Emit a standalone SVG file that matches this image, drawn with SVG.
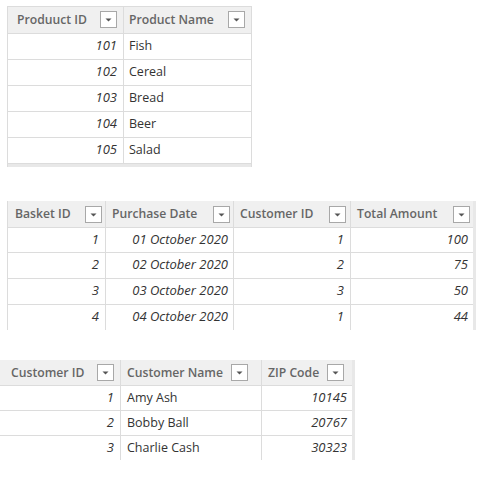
<svg xmlns="http://www.w3.org/2000/svg" width="498" height="481" viewBox="0 0 498 481">
<defs>
<style>
.hdr{fill:#f0f0f0}
.grid{stroke:#dcdcdc;stroke-width:1;fill:none}
.frame{fill:#e8e8e8}
.ht{font-family:"Open Sans","Noto Sans",sans-serif;font-size:12.2px;font-weight:600;fill:#666}
.dt{font-family:"Open Sans","Noto Sans",sans-serif;font-size:12.5px;fill:#333}
.num{font-family:"Open Sans","Noto Sans",sans-serif;font-size:13px;font-style:italic;fill:#333;text-anchor:end}
.dd{fill:#fff;stroke:#a8a8a8;stroke-width:1}
.tri{fill:#555}
</style>
<g id="ddicon">
<rect class="dd" x="0.5" y="0.5" width="16" height="16"/>
<path class="tri" d="M5.5,7.5 L11.5,7.5 L8.5,10.5 Z"/>
</g>
</defs>
<rect width="498" height="481" fill="#fff"/>

<g id="products">
<rect class="hdr" x="7" y="6" width="245" height="27"/>
<rect class="frame" x="7" y="163" width="245" height="4"/>
<path class="grid" d="M7.5,6 V167 M251.5,6 V167 M7,6.5 H252 M123.5,6 V163 M7,33.5 H252 M7,59.5 H252 M7,85.5 H252 M7,111.5 H252 M7,137.5 H252 M7,163.5 H252"/>
<text class="ht" x="17" y="24">Produuct ID</text>
<use href="#ddicon" x="100" y="11"/>
<text class="ht" x="129" y="24">Product Name</text>
<use href="#ddicon" x="228" y="11"/>
<text class="num" x="117" y="50">101</text><text class="dt" x="129" y="50">Fish</text>
<text class="num" x="117" y="76">102</text><text class="dt" x="129" y="76">Cereal</text>
<text class="num" x="117" y="102">103</text><text class="dt" x="129" y="102">Bread</text>
<text class="num" x="117" y="128">104</text><text class="dt" x="129" y="128">Beer</text>
<text class="num" x="117" y="154">105</text><text class="dt" x="129" y="154">Salad</text>
</g>

<g id="baskets">
<rect class="hdr" x="7" y="201" width="466" height="26"/>
<rect class="frame" x="473" y="201" width="3" height="129"/>
<path class="grid" d="M7.5,201 V330 M105.5,201 V330 M233.5,201 V330 M350.5,201 V330 M7,227.5 H473 M7,252.5 H473 M7,278.5 H473 M7,304.5 H473"/>
<text class="ht" x="15" y="218">Basket ID</text>
<use href="#ddicon" x="85" y="206"/>
<text class="ht" x="112" y="218">Purchase Date</text>
<use href="#ddicon" x="213" y="206"/>
<text class="ht" x="240" y="218">Customer ID</text>
<use href="#ddicon" x="329" y="206"/>
<text class="ht" x="357" y="218">Total Amount</text>
<use href="#ddicon" x="453" y="206"/>
<text class="num" x="99" y="244">1</text><text class="num" x="228" y="244">01 October 2020</text><text class="num" x="344" y="244">1</text><text class="num" x="468" y="244">100</text>
<text class="num" x="99" y="269">2</text><text class="num" x="228" y="269">02 October 2020</text><text class="num" x="344" y="269">2</text><text class="num" x="468" y="269">75</text>
<text class="num" x="99" y="295">3</text><text class="num" x="228" y="295">03 October 2020</text><text class="num" x="344" y="295">3</text><text class="num" x="468" y="295">50</text>
<text class="num" x="99" y="321">4</text><text class="num" x="228" y="321">04 October 2020</text><text class="num" x="344" y="321">1</text><text class="num" x="468" y="321">44</text>
</g>

<g id="customers">
<rect class="hdr" x="0" y="360" width="352" height="25"/>
<rect class="frame" x="352" y="360" width="3" height="100"/>
<path class="grid" d="M120.5,360 V460 M261.5,360 V460 M0,385.5 H352 M0,410.5 H352 M0,435.5 H352"/>
<text class="ht" x="11" y="377">Customer ID</text>
<use href="#ddicon" x="97" y="364"/>
<text class="ht" x="127" y="377">Customer Name</text>
<use href="#ddicon" x="231" y="364"/>
<text class="ht" x="268" y="377">ZIP Code</text>
<use href="#ddicon" x="327" y="364"/>
<text class="num" x="114" y="402">1</text><text class="dt" x="127" y="402">Amy Ash</text><text class="num" x="347" y="402">10145</text>
<text class="num" x="114" y="427">2</text><text class="dt" x="127" y="427">Bobby Ball</text><text class="num" x="347" y="427">20767</text>
<text class="num" x="114" y="452">3</text><text class="dt" x="127" y="452">Charlie Cash</text><text class="num" x="347" y="452">30323</text>
</g>
</svg>
